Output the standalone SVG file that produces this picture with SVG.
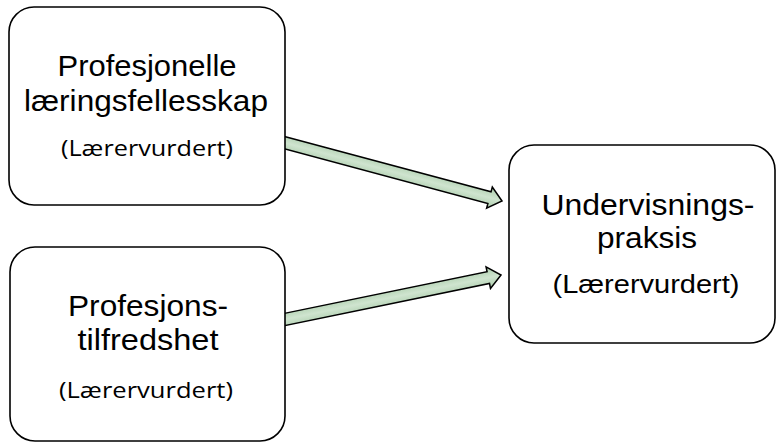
<svg xmlns="http://www.w3.org/2000/svg" width="776" height="443" viewBox="0 0 776 443">
<defs>
<linearGradient id="g" x1="0" y1="0" x2="0" y2="1">
<stop offset="0" stop-color="#a9cba9"/>
<stop offset="0.5" stop-color="#cfe4cf"/>
<stop offset="1" stop-color="#a9cba9"/>
</linearGradient>
<style>
.box{fill:#fff;stroke:#000;stroke-width:1.6}
.arr{fill:url(#g);stroke:#000;stroke-width:1.5;stroke-linejoin:miter}
.t{font-family:"Liberation Sans",Arial,sans-serif;font-size:29px;fill:#000;text-anchor:middle}
.s{font-family:"Open Sans","Noto Sans",sans-serif;font-size:22px;fill:#000;text-anchor:middle}
.a{font-family:"Liberation Sans",Arial,sans-serif;font-size:25px;fill:#000;text-anchor:middle}
</style>
</defs>
<rect width="776" height="443" fill="#fff"/>
<g id="connectors">
<polygon class="arr" transform="translate(282,142) rotate(15.01)" points="0,-6 214.8,-6 214.8,-11 227.8,0 214.8,11 214.8,6 0,6"/>
<polygon class="arr" transform="translate(282,320) rotate(-11.61)" points="0,-6 210.6,-6 210.6,-11 223.6,0 210.6,11 210.6,6 0,6"/>
</g>
<g id="node1">
<rect class="box" x="9" y="7" width="276" height="198" rx="25" ry="25"/>
<text class="t" x="147" y="76" textLength="179" lengthAdjust="spacingAndGlyphs">Profesjonelle</text>
<text class="t" x="146" y="111" textLength="244" lengthAdjust="spacingAndGlyphs">læringsfellesskap</text>
<text class="s" x="147" y="156" textLength="172" lengthAdjust="spacingAndGlyphs">(Lærervurdert)</text>
</g>
<g id="node2">
<rect class="box" x="10" y="247" width="275" height="194" rx="25" ry="25"/>
<text class="t" x="148" y="316" textLength="160" lengthAdjust="spacingAndGlyphs">Profesjons-</text>
<text class="t" x="148" y="350" textLength="141" lengthAdjust="spacingAndGlyphs">tilfredshet</text>
<text class="s" x="146" y="398" textLength="174" lengthAdjust="spacingAndGlyphs">(Lærervurdert)</text>
</g>
<g id="node3">
<rect class="box" x="509" y="145" width="266" height="198" rx="25" ry="25"/>
<text class="t" x="648" y="215" textLength="213" lengthAdjust="spacingAndGlyphs">Undervisnings-</text>
<text class="t" x="647" y="248" textLength="100" lengthAdjust="spacingAndGlyphs">praksis</text>
<text class="a" x="646" y="293" textLength="187" lengthAdjust="spacingAndGlyphs">(Lærervurdert)</text>
</g>
</svg>
